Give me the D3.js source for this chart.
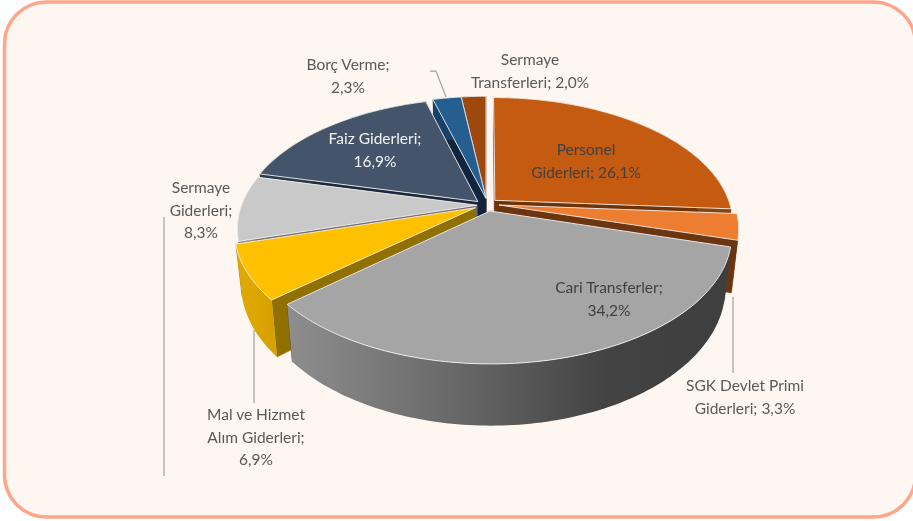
<!DOCTYPE html>
<html><head><meta charset="utf-8">
<script src="https://cdnjs.cloudflare.com/ajax/libs/d3/7.8.5/d3.min.js"></script>
<style>html,body{margin:0;padding:0;background:#fff;overflow:hidden}svg{display:block;filter:blur(.45px)}
text{font-family:Lato,"Open Sans",sans-serif;font-size:15.5px;text-anchor:middle}</style>
</head><body><svg id="c" width="913" height="521"></svg>
<script>
const categories=["Personel Giderleri","SGK Devlet Primi Giderleri","Cari Transferler","Mal ve Hizmet Alım Giderleri","Sermaye Giderleri","Faiz Giderleri","Borç Verme","Sermaye Transferleri"];
const values=[26.1,3.3,34.2,6.9,8.3,16.9,2.3,2.0];
const topColors=["#C55A11","#ED7D31","#A5A5A5","#FFC000","#C9C9C9","#44546A","#255E91","#9E480E"];
const wallColors=["#6E3209","#6B3510","#444444","#8F7000","#6f6f6f","#1B2A3E","#10263F","#5c2a08"];
const sideColors=["#8a430d","#6B3510","url(#cariSide)","url(#malSide)","#8f8f8f","#2c3a4e","#17406a","#6e3209"];
const drawOrder=[7,6,5,0,4,1,3,2];
const sliceOffsets=[[.038,-.03],[.055,.008],[.017,.057],[-.045,.03],[-.038,.01],[-.035,-.02],[0,-.045],[0,-.045]];
const labelLines=[["Personel","Giderleri; 26,1%"],["SGK Devlet Primi","Giderleri; 3,3%"],["Cari Transferler;","34,2%"],["Mal ve Hizmet","Alım Giderleri;","6,9%"],["Sermaye","Giderleri;","8,3%"],["Faiz Giderleri;","16,9%"],["Borç Verme;","2,3%"],["Sermaye","Transferleri; 2,0%"]];
const labelAt=[[586,155],[745,391],[609,293],[256,420],[201,193],[375,144],[348,70],[530,65]];
const labelFill=["#404040","#595959","#404040","#595959","#595959","#F2F2F2","#595959","#595959"];
const leaders=[[[733,297],[733,373]],[[254,330],[254,403]],[[164,217],[164,476]],[[430,71],[436,71],[446,97]]];

const cx=486,cy=204,Rx=235,Ry=122.5,persp=.18,depth=50,shrink=.975;
const sx=d3.scaleLinear().domain([-1,1]).range([cx-Rx,cx+Rx]);
const sy=d3.scaleLinear().domain([-1,1]).range([cy-Ry,cy+Ry]);
const svg=d3.select("#c");
const defs=svg.append("defs");
function grad(id,x1,x2,stops){const g=defs.append("linearGradient").attr("id",id).attr("gradientUnits","userSpaceOnUse").attr("x1",x1).attr("x2",x2).attr("y1",0).attr("y2",0);
 stops.forEach(s=>g.append("stop").attr("offset",s[0]).attr("stop-color",s[1]));}
grad("cariSide",287,730,[[0,"#8e8e8e"],[.4,"#666"],[.72,"#434343"],[1,"#3e3e3e"]]);
grad("malSide",237,285,[[0,"#E2AA00"],[1,"#D39E00"]]);

svg.append("rect").attr("x",4.5).attr("y",2).attr("width",911).attr("height",515).attr("rx",42)
 .attr("fill","#FEF6F0").attr("stroke","#FFA68A").attr("stroke-width",3.5);

function proj(u,v,low){const w=1/(1-persp*v);
 const x=sx(u*w),y=sy(v*w);
 return low?[cx+(x-cx)*shrink,y+depth*w]:[x,y];}
const pie=d3.pie().sort(null).value(d=>d)(values);
const line=d3.line();
const arcs=pie.map(p=>{
 const [ox,oy]=sliceOffsets[p.index];
 const at=(a,r,low)=>proj(ox+r*Math.sin(a),oy-r*Math.cos(a),low);
 const n=Math.max(6,Math.ceil((p.endAngle-p.startAngle)/.02));
 const ang=d3.range(n+1).map(i=>p.startAngle+(p.endAngle-p.startAngle)*i/n);
 return {at,ang,start:p.startAngle,end:p.endAngle,index:p.index};
});
const gPie=svg.append("g");
drawOrder.forEach(i=>{
 const a=arcs[i],g=gPie.append("g");
 const wall=(ang)=>[a.at(ang,0,false),a.at(ang,1,false),a.at(ang,1,true),a.at(ang,0,true)];
 [a.start,a.end].forEach(t=>g.append("path").attr("d",line(wall(t))+"Z").attr("fill",wallColors[i]).attr("stroke",wallColors[i]).attr("stroke-width",.4));
 const top=a.ang.map(t=>a.at(t,1,false)),low=a.ang.map(t=>a.at(t,1,true)).reverse();
 g.append("path").attr("d",line(top.concat(low))+"Z").attr("fill",sideColors[i]);
 g.append("path").attr("d",line([a.at(a.start,0,false),...top])+"Z").attr("fill",topColors[i]).attr("stroke","#F4F1EE").attr("stroke-width",.9).attr("stroke-linejoin","round");
});
const lead=d3.line();
svg.append("g").selectAll("path").data(leaders).join("path").attr("d",d=>lead(d)).attr("fill","none").attr("stroke","#A2A2A2").attr("stroke-width",1.25);
const lab=svg.append("g").selectAll("text").data(labelLines).join("text")
 .attr("x",(d,i)=>labelAt[i][0]).attr("y",(d,i)=>labelAt[i][1]).attr("fill",(d,i)=>labelFill[i]);
lab.selectAll("tspan").data(d=>d).join("tspan").attr("x",function(){return d3.select(this.parentNode).attr("x")})
 .attr("dy",(d,i)=>i?22.5:0).text(d=>d);
</script></body></html>
